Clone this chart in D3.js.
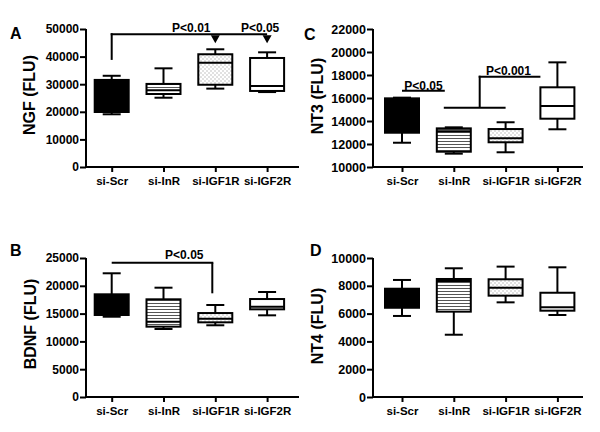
<!DOCTYPE html>
<html><head><meta charset="utf-8">
<script src="https://cdn.jsdelivr.net/npm/d3@7"></script>
<style>
body{margin:0;background:#fff}
text{font-family:"Liberation Sans",Arial,sans-serif;font-weight:bold;fill:#000}
</style>
</head><body>
<svg id="chart" width="600" height="432"></svg>
<script>
// ---------- data ----------
const categories = ["si-Scr","si-InR","si-IGF1R","si-IGF2R"];
// each entry: [min, q1, median, q3, max]
const ngfStats  = [[19100,19930,24000,31550,33050],[25100,26450,27800,30100,35750],[28400,29800,37800,40850,42650],[27150,27550,29350,39500,41550]];
const nt3Stats  = [[12110,12980,14500,15970,16030],[11160,11330,13100,13360,13450],[11280,12150,12500,13300,13890],[13280,14200,15300,16930,19100]];
const bdnfStats = [[14440,14750,16500,18470,22250],[12230,12650,13550,17570,19660],[12900,13430,14090,15100,16550],[14690,15770,16250,17620,18880]];
const nt4Stats  = [[5830,6420,7000,7790,8420],[4480,6140,8350,8490,9260],[6810,7290,7860,8470,9380],[5900,6210,6450,7500,9330]];
const ngfTicks  = [0,10000,20000,30000,40000,50000];
const nt3Ticks  = [10000,12000,14000,16000,18000,20000,22000];
const bdnfTicks = [0,5000,10000,15000,20000,25000];
const nt4Ticks  = [0,2000,4000,6000,8000,10000];
const ngfSigLevels  = [38800, 48100];          // bracket start, bracket line
const ngfSigLabels  = ["P<0.01","P<0.05"];
const nt3SigLevels  = [16630, 15160, 17850];   // P<0.05 line, lower line, upper line
const nt3SigLabels  = ["P<0.05","P<0.001"];
const bdnfSigLevels = [24160, 18650];
const bdnfSigLabels = ["P<0.05"];

// ---------- styles ----------
const svg = d3.select("#chart");
const defs = svg.append("defs");
const sp = defs.append("pattern").attr("id","stripes").attr("patternUnits","userSpaceOnUse").attr("width",4).attr("height",3);
sp.append("rect").attr("width",4).attr("height",3).attr("fill","#fff");
sp.append("rect").attr("y",0).attr("width",4).attr("height",1).attr("fill","#555");
const dp = defs.append("pattern").attr("id","dots").attr("patternUnits","userSpaceOnUse").attr("width",4).attr("height",4);
dp.append("rect").attr("width",4).attr("height",4).attr("fill","#fff");
dp.append("rect").attr("x",0.5).attr("y",0.5).attr("width",1).attr("height",1).attr("fill","#888");
dp.append("rect").attr("x",2.5).attr("y",2.5).attr("width",1).attr("height",1).attr("fill","#888");
const fills = ["#000","url(#stripes)","url(#dots)","#fff"];

function panel(cfg){
  const g = svg.append("g");
  const y = d3.scaleLinear().domain([cfg.ticks[0], cfg.ticks[cfg.ticks.length-1]]).range([cfg.bottom, cfg.top]);
  const x = d3.scalePoint().domain(categories).range([cfg.left+cfg.first, cfg.left+cfg.first+3*51.8]);
  // y axis
  const ya = g.append("g").attr("transform",`translate(${cfg.left},0)`)
    .call(d3.axisLeft(y).tickValues(cfg.ticks).tickFormat(d3.format("d")).tickSize(6).tickSizeOuter(0).tickPadding(1));
  ya.selectAll("path,line").attr("stroke","#000").attr("stroke-width",2);
  ya.selectAll("text").style("font-size",cfg.fs+"px").style("font-family",'"Liberation Sans",Arial,sans-serif').style("font-weight","bold");
  ya.select(".domain").attr("d",`M0,${cfg.bottom+1}V${cfg.top}`);
  // x axis
  const xa = g.append("g").attr("transform",`translate(0,${cfg.bottom})`)
    .call(d3.axisBottom(x).tickSize(5).tickPadding(5).tickSizeOuter(0));
  xa.select(".domain").attr("d",`M${cfg.left-1},0H${cfg.right}`);
  xa.selectAll("path,line").attr("stroke","#000").attr("stroke-width",2);
  xa.selectAll("text").style("font-size","11.5px").style("font-family",'"Liberation Sans",Arial,sans-serif').style("font-weight","bold");
  // boxes
  const bw = 34, cw = 18;
  cfg.stats.forEach((s,i)=>{
    const cx = x(categories[i]);
    const bg = g.append("g").attr("stroke","#000").attr("stroke-width",2);
    bg.append("line").attr("x1",cx).attr("x2",cx).attr("y1",y(s[4])).attr("y2",y(s[3]));
    bg.append("line").attr("x1",cx).attr("x2",cx).attr("y1",y(s[1])).attr("y2",y(s[0]));
    bg.append("line").attr("x1",cx-cw/2).attr("x2",cx+cw/2).attr("y1",y(s[4])).attr("y2",y(s[4]));
    bg.append("line").attr("x1",cx-cw/2).attr("x2",cx+cw/2).attr("y1",y(s[0])).attr("y2",y(s[0]));
    bg.append("rect").attr("x",cx-bw/2).attr("width",bw).attr("y",y(s[3])).attr("height",y(s[1])-y(s[3])).attr("fill",fills[i]);
    bg.append("line").attr("x1",cx-bw/2).attr("x2",cx+bw/2).attr("y1",y(s[2])).attr("y2",y(s[2]));
  });
  // y title
  g.append("text").attr("transform",`translate(${cfg.ylx},${cfg.yly}) rotate(-90)`)
    .attr("text-anchor","middle").attr("dominant-baseline","central").style("font-size","16px").text(cfg.ylabel);
  g.append("text").attr("x",cfg.lx).attr("y",cfg.ly).style("font-size","16px").text(cfg.letter);
  return {g,x,y};
}
function ln(g,x1,y1,x2,y2){ g.append("line").attr("x1",x1).attr("y1",y1).attr("x2",x2).attr("y2",y2).attr("stroke","#000").attr("stroke-width",2); }
function lab(g,x,y,t){ g.append("text").attr("x",x).attr("y",y).attr("text-anchor","middle").style("font-size","12px").text(t); }

// Panel A
const A = panel({left:86,right:299,top:29,bottom:167,first:25.7,ticks:ngfTicks,stats:ngfStats,fs:12,ylabel:"NGF (FLU)",ylx:29,yly:95,letter:"A",lx:10,ly:39});
{
  const {g,x,y} = A; const yl = y(ngfSigLevels[1]);
  ln(g,x("si-Scr"),y(ngfSigLevels[0]),x("si-Scr"),yl-1);
  ln(g,x("si-Scr")-1,yl,x("si-IGF2R"),yl);
  ["si-IGF1R","si-IGF2R"].forEach(c=>{
    const cx=x(c);
    g.append("path").attr("d",`M${cx-4.5},${yl+1}L${cx+4.5},${yl+1}L${cx},${yl+9}Z`).attr("fill","#000");
  });
  lab(g,x("si-IGF1R")-24,yl-2,ngfSigLabels[0]);
  lab(g,x("si-IGF2R")-7,yl-2,ngfSigLabels[1]);
}
// Panel C
const C = panel({left:373,right:583,top:29,bottom:167,first:29,ticks:nt3Ticks,stats:nt3Stats,fs:12.5,ylabel:"NT3 (FLU)",ylx:317,yly:96,letter:"C",lx:304,ly:40});
{
  const {g,x,y} = C;
  const y1 = y(nt3SigLevels[0]);
  ln(g,x("si-Scr"),y1,x("si-InR")-9,y1);
  lab(g,(x("si-Scr")+x("si-InR")-9)/2,y1-1,nt3SigLabels[0]);
  const y2 = y(nt3SigLevels[1]), y3 = y(nt3SigLevels[2]);
  const mid = (x("si-InR")+x("si-IGF1R"))/2;
  ln(g,x("si-InR")-10,y2,x("si-IGF1R"),y2);
  ln(g,mid,y2,mid,y3-1);
  ln(g,mid-1,y3,x("si-IGF2R")-17,y3);
  lab(g,x("si-IGF2R")-49,y3-2,nt3SigLabels[1]);
}
// Panel B
const B = panel({left:86,right:299,top:258,bottom:397,first:25.7,ticks:bdnfTicks,stats:bdnfStats,fs:12,ylabel:"BDNF (FLU)",ylx:30,yly:324,letter:"B",lx:10,ly:256});
{
  const {g,x,y} = B; const yl = y(bdnfSigLevels[0]);
  const xe = x("si-IGF1R")-3;
  ln(g,x("si-Scr"),yl,xe+1,yl);
  ln(g,xe,yl,xe,y(bdnfSigLevels[1]));
  lab(g,x("si-IGF1R")-31,yl-4,bdnfSigLabels[0]);
}
// Panel D
panel({left:373,right:583,top:258,bottom:397,first:29,ticks:nt4Ticks,stats:nt4Stats,fs:12.5,ylabel:"NT4 (FLU)",ylx:317,yly:326,letter:"D",lx:310,ly:256});
</script>
</body></html>
